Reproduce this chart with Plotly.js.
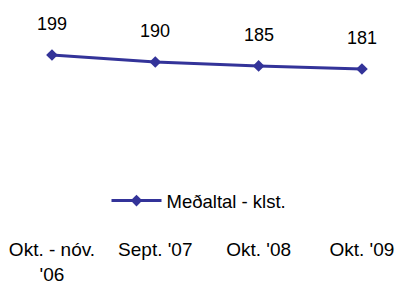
<!DOCTYPE html>
<html>
<head>
<meta charset="utf-8">
<script src="https://cdn.plot.ly/plotly-3.0.1.min.js"></script>
<style>html,body{margin:0;padding:0;background:#fff;}#chart{width:398px;height:287px;}</style>
</head>
<body>
<div id="chart"></div>
<script>
const categories = ["Okt. - nóv.<br>'06", "Sept. '07", "Okt. '08", "Okt. '09"];
const values = [199, 190, 185, 181];
const seriesName = "Meðaltal - klst.";

const color = "#333399";
const family = "Liberation Sans, Arial, sans-serif";
const font = {family: family, size: 18, color: "#000"};
const tickFont = {family: family, size: 19, color: "#000"};
const legendFont = {family: family, size: 18.5, color: "#000"};

const trace = {
  x: [0, 1, 2, 3],
  y: values,
  type: "scatter",
  mode: "lines+markers",
  name: seriesName,
  line: {color: color, width: 3},
  marker: {symbol: "diamond", size: 9, color: color},
  cliponaxis: false
};

const annotations = values.map((v, i) => ({
  x: i, y: v, xref: "x", yref: "y",
  text: String(v), showarrow: false,
  yanchor: "middle", yshift: 31,
  font: font
}));

const layout = {
  width: 398, height: 287,
  margin: {l: 0, r: 0, t: 0, b: 51},
  paper_bgcolor: "#fff", plot_bgcolor: "#fff",
  font: font,
  showlegend: true,
  legend: {x: 0.5, xanchor: "center", y: 0.148, yanchor: "middle", orientation: "h",
           font: legendFont, bgcolor: "rgba(0,0,0,0)", itemwidth: 50},
  xaxis: {
    range: [-0.503, 3.349],
    tickvals: [0, 1, 2, 3], ticktext: categories,
    showgrid: false, zeroline: false, showline: false, ticks: "",
    automargin: false, tickfont: tickFont
  },
  yaxis: {
    range: [-33.7, 269.7], visible: false, showgrid: false, zeroline: false, automargin: false
  },
  annotations: annotations
};

Plotly.newPlot("chart", [trace], layout, {staticPlot: true, displayModeBar: false});
</script>
</body>
</html>
